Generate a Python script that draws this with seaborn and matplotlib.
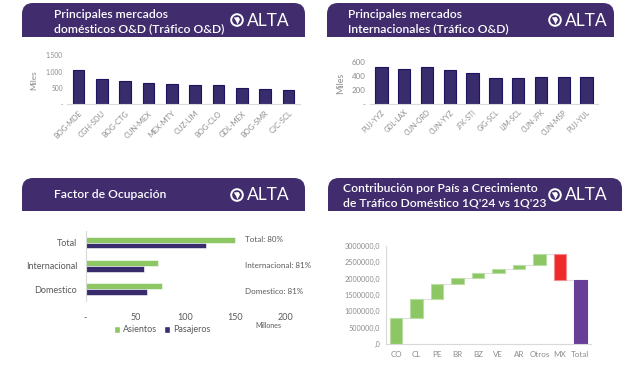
import numpy as np
import pandas as pd
import matplotlib
matplotlib.use("Agg")
import matplotlib.pyplot as plt
import seaborn as sns
from matplotlib.patches import FancyBboxPatch, Rectangle, Circle, Polygon

# ---------------- data ----------------
dom_routes = ["BOG-MDE", "CGH-SDU", "BOG-CTG", "CUN-MEX", "MEX-MTY",
              "CUZ-LIM", "BOG-CLO", "GDL-MEX", "BOG-SMR", "CJC-SCL"]
dom_values = [1040, 770, 720, 650, 625, 600, 595, 505, 460, 440]

int_routes = ["PUJ-YYZ", "GDL-LAX", "CUN-ORD", "CUN-YYZ", "JFK-STI",
              "GIG-SCL", "LIM-SCL", "CUN-JFK", "CUN-MSP", "PUJ-YUL"]
int_values = [520, 500, 530, 490, 445, 370, 370, 390, 385, 385]

lf_segments = ["Total", "Internacional", "Domestico"]
lf_asientos = [149, 72, 76.5]
lf_pasajeros = [120, 58.5, 61.5]
lf_labels = ["Total: 80%", "Internacional: 81%", "Domestico: 81%"]

wf_countries = ["CO", "CL", "PE", "BR", "BZ", "VE", "AR", "Otros", "MX"]
wf_values = [785000, 580000, 470000, 185000, 160000, 115000, 120000, 345000, -820000]
wf_total_label = "Total"

# ---------------- style ----------------
sns.set_theme(style="white")
plt.rcParams["font.family"] = ["Lato", "DejaVu Sans"]

W, H = 640, 366
fig = plt.figure(figsize=(W / 100, H / 100), dpi=100)
fig.patch.set_facecolor("white")

BANNER = "#412D6E"
BAR = "#382C6C"
BAR_EDGE = "#1C145E"
GREEN = "#8CC763"
GREEN_EDGE = "#B9DDA2"
RED = "#EE2A2A"
RED_EDGE = "#F58A8A"
TOTAL = "#673F97"
GRAY = "#8C8C8C"
DGRAY = "#595959"
SPINE = "#D9D9D9"


def rect(x0, y0, x1, y1):
    return [x0 / W, 1 - y1 / H, (x1 - x0) / W, (y1 - y0) / H]


def clean(ax, left=False, bottom=True):
    for s in ["top", "right"]:
        ax.spines[s].set_visible(False)
    ax.spines["left"].set_visible(left)
    ax.spines["bottom"].set_visible(bottom)
    ax.spines["left"].set_color(SPINE)
    ax.spines["bottom"].set_color(SPINE)
    ax.spines["left"].set_linewidth(0.8)
    ax.spines["bottom"].set_linewidth(0.8)
    ax.set_xlabel("")
    ax.set_ylabel("")
    ax.set_facecolor("none")


# ---------------- panel 1 ----------------
ax1 = fig.add_axes(rect(67, 55.5, 300, 104))
sns.barplot(x=dom_routes, y=dom_values, ax=ax1, color=BAR, saturation=1,
            width=0.5, edgecolor=BAR_EDGE, linewidth=0.8)
clean(ax1)
ax1.set_ylim(0, 1500)
ax1.set_yticks([0, 500, 1000, 1500])
ax1.set_yticklabels(["-", "500", "1.000", "1.500"])
ax1.tick_params(axis="both", length=0, labelsize=4.8, colors=GRAY, pad=3)
ax1.tick_params(axis="x", labelsize=5.4, pad=4)
for lbl in ax1.get_xticklabels():
    lbl.set_rotation(45)
    lbl.set_ha("right")
    lbl.set_rotation_mode("anchor")
ax1.set_ylabel("Miles", fontsize=6, color=GRAY, labelpad=6)

# ---------------- panel 2 ----------------
ax2 = fig.add_axes(rect(370, 61.7, 598, 104.3))
sns.barplot(x=int_routes, y=int_values, ax=ax2, color=BAR, saturation=1,
            width=0.54, edgecolor=BAR_EDGE, linewidth=0.8)
clean(ax2)
ax2.set_ylim(0, 600)
ax2.set_yticks([0, 200, 400, 600])
ax2.set_yticklabels(["-", "200", "400", "600"])
ax2.tick_params(axis="both", length=0, labelsize=5, colors=GRAY, pad=3)
ax2.tick_params(axis="y", labelsize=5.8)
for lbl in ax2.get_xticklabels():
    lbl.set_rotation(45)
    lbl.set_ha("right")
    lbl.set_rotation_mode("anchor")
ax2.set_ylabel("Miles", fontsize=6.5, color=GRAY, labelpad=5)

# ---------------- panel 3 ----------------
ax3 = fig.add_axes(rect(85.5, 231, 285.5, 300.7))
df3 = pd.DataFrame({
    "seg": lf_segments * 2,
    "val": lf_asientos + lf_pasajeros,
    "serie": ["Asientos"] * 3 + ["Pasajeros"] * 3,
})
sns.barplot(data=df3, y="seg", x="val", hue="serie", orient="h",
            palette=[GREEN, BAR], saturation=1, width=0.5, ax=ax3,
            legend=False, edgecolor="white", linewidth=0.4)
clean(ax3, left=True, bottom=False)
ax3.set_xlim(0, 200)
ax3.set_xticks([0, 50, 100, 150, 200])
ax3.set_xticklabels(["-", "50", "100", "150", "200"])
ax3.tick_params(axis="both", length=0, labelsize=6.5, colors=DGRAY)
ax3.tick_params(axis="x", pad=9)
ax3.tick_params(axis="y", pad=6)

# ---------------- panel 4 (waterfall) ----------------
ax4 = fig.add_axes(rect(385.7, 245.7, 590.7, 344))
cum = np.cumsum(wf_values)
starts = np.concatenate([[0], cum[:-1]])
bottoms = list(np.where(np.array(wf_values) >= 0, starts, cum)) + [0]
heights = list(np.abs(wf_values)) + [cum[-1]]
cats = wf_countries + [wf_total_label]
sns.barplot(x=cats, y=heights, bottom=bottoms, ax=ax4, color=GREEN,
            saturation=1, width=0.62, linewidth=0.8)
for i, p in enumerate(ax4.patches):
    if i == len(cats) - 1:
        p.set_facecolor(TOTAL); p.set_edgecolor(TOTAL)
    elif wf_values[i] < 0:
        p.set_facecolor(RED); p.set_edgecolor(RED_EDGE)
    else:
        p.set_facecolor(GREEN); p.set_edgecolor(GREEN_EDGE)
ends = list(cum) + [cum[-1]]
for i in range(len(cats) - 1):
    ax4.plot([i + 0.31, i + 1 - 0.31], [ends[i], ends[i]], color="#E0E0E0", lw=0.8, zorder=0)
clean(ax4, left=True, bottom=True)
ax4.set_xlim(-0.5, len(cats) - 0.5)
ax4.set_ylim(0, 3000000)
yt = [0, 500000, 1000000, 1500000, 2000000, 2500000, 3000000]
ax4.set_yticks(yt)
ax4.set_yticklabels([",0" if v == 0 else f"{v},0" for v in yt])
ax4.tick_params(axis="both", length=0, labelsize=5.2, colors=GRAY, pad=4)
ax4.tick_params(axis="x", labelsize=5.8, pad=5)

# ---------------- overlay: banners & texts ----------------
ov = fig.add_axes([0, 0, 1, 1])
ov.set_xlim(0, W)
ov.set_ylim(H, 0)
ov.axis("off")
ov.patch.set_alpha(0)


def banner(x0, y0, x1, y1, r=11):
    ov.add_patch(FancyBboxPatch((x0, y0), x1 - x0, y1 - y0,
                                boxstyle=f"round,pad=0,rounding_size={r}",
                                fc=BANNER, ec="none"))
    ov.add_patch(Rectangle((x0, (y0 + y1) / 2), x1 - x0, (y1 - y0) / 2,
                           fc=BANNER, ec="none"))


def logo(cx, cy):
    ov.add_patch(Circle((cx, cy), 5.8, fc="none", ec="white", lw=1.4))
    ov.add_patch(Polygon([[cx - 3.2, cy - 2.5], [cx + 1.5, cy - 3.0], [cx + 3.0, cy - 0.5],
                          [cx + 0.5, cy + 4.5], [cx - 1.0, cy + 1.0]],
                         closed=True, fc="white", ec="none"))
    ov.text(cx + 10, cy + 0.5, "ALTA", color="white", fontsize=12.5,
            ha="left", va="center")


tkw = dict(color="white", fontsize=8.7, ha="left", va="center", fontweight="semibold")

banner(22, 3, 305, 37)
ov.text(54, 15, "Principales mercados", **tkw)
ov.text(54, 28.5, "domésticos O&D (Tráfico O&D)", **tkw)
logo(237, 20)

banner(327, 3, 614, 37)
ov.text(348, 15, "Principales mercados", **tkw)
ov.text(348, 28.5, "Internacionales (Tráfico O&D)", **tkw)
logo(555, 20)

banner(22, 178, 305, 211)
ov.text(54, 194, "Factor de Ocupación", **tkw)
logo(237, 195)

banner(328, 178, 622, 211)
ov.text(343, 189, "Contribución por País a Crecimiento", **tkw)
ov.text(343, 203, "de Tráfico Doméstico 1Q'24 vs 1Q'23", **tkw)
logo(555, 195)

for txt, y in zip(lf_labels, [240, 266, 292]):
    ov.text(245, y, txt, fontsize=5.8, color=DGRAY, ha="left", va="center")
ov.text(255, 325, "Millones", fontsize=5, color=DGRAY, ha="left", va="center")

handles = [Rectangle((0, 0), 1, 1, fc=GREEN), Rectangle((0, 0), 1, 1, fc=BAR)]
fig.legend(handles, ["Asientos", "Pasajeros"], loc="center",
           bbox_to_anchor=(162 / W, 1 - 330 / H), ncol=2, frameon=False,
           fontsize=6.5, handlelength=0.7, handleheight=0.7, handletextpad=0.3,
           columnspacing=0.8, labelcolor=DGRAY)

fig.savefig("out.png", dpi=100, facecolor="white")
